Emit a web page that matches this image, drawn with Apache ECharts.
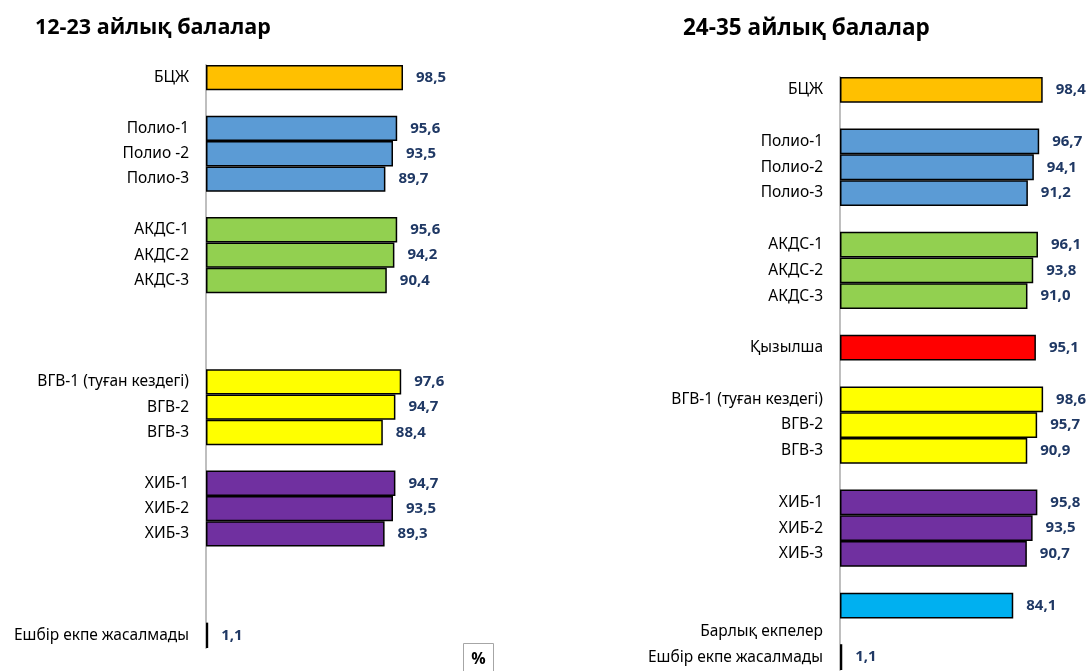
<!DOCTYPE html>
<html>
<head>
<meta charset="utf-8">
<script src="https://cdn.jsdelivr.net/npm/echarts@6/dist/echarts.min.js"></script>
<style>
  html, body { margin: 0; padding: 0; background: #fff; }
  #main { width: 1091px; height: 671px; }
</style>
</head>
<body>
<div id="main"></div>
<script>
// 12-23 айлық балалар
const leftCategories = ['БЦЖ', '', 'Полио-1', 'Полио -2', 'Полио-3', '', 'АКДС-1', 'АКДС-2', 'АКДС-3', '', '', '',
    'ВГВ-1 (туған кездегі)', 'ВГВ-2', 'ВГВ-3', '', 'ХИБ-1', 'ХИБ-2', 'ХИБ-3', '', '', '', 'Ешбір екпе жасалмады'];
const leftValues = [98.5, null, 95.6, 93.5, 89.7, null, 95.6, 94.2, 90.4, null, null, null,
    97.6, 94.7, 88.4, null, 94.7, 93.5, 89.3, null, null, null, 1.1];

// 24-35 айлық балалар
const rightCategories = ['БЦЖ', '', 'Полио-1', 'Полио-2', 'Полио-3', '', 'АКДС-1', 'АКДС-2', 'АКДС-3', '', 'Қызылша', '',
    'ВГВ-1 (туған кездегі)', 'ВГВ-2', 'ВГВ-3', '', 'ХИБ-1', 'ХИБ-2', 'ХИБ-3', '', '', 'Барлық екпелер', 'Ешбір екпе жасалмады'];
const rightValues = [98.4, null, 96.7, 94.1, 91.2, null, 96.1, 93.8, 91.0, null, 95.1, null,
    98.6, 95.7, 90.9, null, 95.8, 93.5, 90.7, null, 84.1, null, 1.1];

// цвет по строке (одинаковый для обеих панелей)
const rowColors = ['#FFC000', null, '#5B9BD5', '#5B9BD5', '#5B9BD5', null, '#92D050', '#92D050', '#92D050', null, '#FF0000', null,
    '#FFFF00', '#FFFF00', '#FFFF00', null, '#7030A0', '#7030A0', '#7030A0', null, '#00B0F0', null, '#FFFFFF'];

const labelFont = 'Noto Sans';

function barData(values) {
    return values.map((v, i) => ({
        value: v,
        itemStyle: { color: rowColors[i] || '#fff' }
    }));
}

function makeSeries(values, idx) {
    return {
        type: 'bar',
        xAxisIndex: idx,
        yAxisIndex: idx,
        barCategoryGap: 0,
        data: barData(values),
        itemStyle: { borderColor: '#000', borderWidth: 1.5 },
        label: {
            show: true,
            position: 'right',
            distance: 13,
            fontFamily: labelFont,
            fontWeight: 'bold',
            fontSize: 15,
            color: '#1F3864',
            formatter: p => p.value == null ? '' : p.value.toFixed(1).replace('.', ',')
        },
        animation: false
    };
}

const chart = echarts.init(document.getElementById('main'));
chart.setOption({
    title: [
        { text: '12-23 айлық балалар', left: 35, top: 17, padding: 0,
          textStyle: { fontFamily: 'Open Sans', fontWeight: 'bold', fontSize: 21.5, color: '#000' } },
        { text: '24-35 айлық балалар', left: 683, top: 17, padding: 0,
          textStyle: { fontFamily: 'Open Sans', fontWeight: 'bold', fontSize: 22.5, color: '#000' } }
    ],
    grid: [
        { left: 206, top: 65, width: 200, height: 583 },
        { left: 840, top: 77, width: 206, height: 593 }
    ],
    xAxis: [
        { gridIndex: 0, type: 'value', min: 0, max: 100, show: false },
        { gridIndex: 1, type: 'value', min: 0, max: 100, show: false }
    ],
    yAxis: [0, 1].map(i => ({
        gridIndex: i,
        type: 'category',
        inverse: true,
        data: i === 0 ? leftCategories : rightCategories,
        axisLine: { show: true, lineStyle: { color: '#BFBFBF', width: 2 } },
        axisTick: { show: false },
        axisLabel: { margin: 17, fontFamily: labelFont, fontSize: 15.5, color: '#000', interval: 0 }
    })),
    series: [makeSeries(leftValues, 0), makeSeries(rightValues, 1)],
    graphic: [{
        type: 'group',
        left: 463, top: 643,
        children: [
            { type: 'rect', shape: { x: 0, y: 0, width: 30, height: 30 },
              style: { fill: '#fff', stroke: '#A6A6A6', lineWidth: 1 } },
            { type: 'text', x: 15, y: 16,
              style: { text: '%', fontFamily: 'Open Sans', fontWeight: 'bold', fontSize: 16,
                       fill: '#000', align: 'center', verticalAlign: 'middle' } }
        ]
    }]
});
</script>
</body>
</html>
